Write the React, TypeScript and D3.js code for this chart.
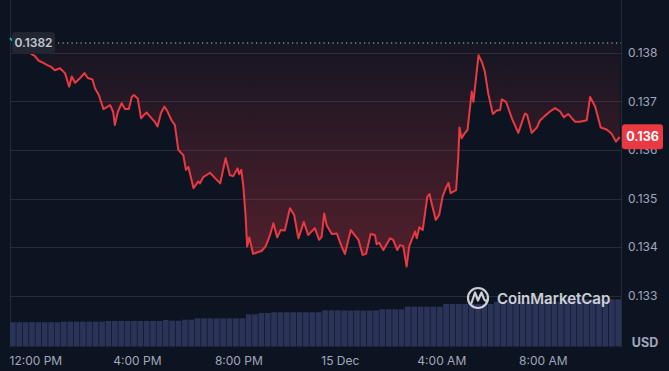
import * as d3 from "d3"
import { useEffect, useRef } from "react"

const W = 669
const H = 371
const BG = "#0d1421"
const RED = "#ea3943"
const GREEN = "#16c784"
const TEXT = "#a1a7bb"
const GRID = "#272c39"
const FONT = "Inter, 'Noto Sans', sans-serif"

const plot = { left: 10, right: 621, top: 0, priceTop: 52.7, priceBottom: 295.7, volTop: 296.5, bottom: 346.5 }

const START = new Date(2023, 11, 14, 11, 0)
const SPAN_MIN = 1445

// minutes after START
const times = [
  0, 9, 24, 40, 59, 67, 79, 87, 97, 106, 118, 130, 140, 146, 154, 166, 176, 184, 195, 201,
  210, 221, 237, 244, 248, 255, 264, 272, 281, 288, 293, 302, 310, 317, 323, 335, 343, 349, 357, 365,
  371, 382, 390, 398, 410, 416, 422, 434, 445, 449, 457, 473, 485, 497, 510, 520, 528, 538, 542, 547,
  552, 557, 561, 566, 575, 587, 595, 605, 615, 623, 632, 640, 650, 662, 672, 682, 695, 705, 721, 731,
  737, 743, 749, 761, 773, 783, 792, 806, 824, 834, 842, 853, 863, 867, 873, 883, 899, 906, 916, 922,
  930, 938, 944, 950, 958, 962, 968, 976, 987, 992, 998, 1007, 1015, 1023, 1031, 1037, 1042, 1055, 1060, 1063,
  1068, 1076, 1082, 1092, 1096, 1108, 1116, 1123, 1131, 1142, 1151, 1159, 1163, 1173, 1187, 1202, 1218, 1223, 1234, 1246,
  1253, 1265, 1277, 1289, 1301, 1310, 1320, 1336, 1348, 1364, 1372, 1384, 1397, 1411, 1423, 1433, 1442,
]

const prices = [
  0.1383, 0.13822, 0.13812, 0.13803, 0.13793, 0.13784, 0.13779, 0.13775, 0.13771, 0.13764,
  0.13768, 0.13758, 0.1373, 0.13751, 0.13738, 0.13748, 0.13758, 0.13748, 0.13745, 0.13727,
  0.13713, 0.13684, 0.13692, 0.13678, 0.13651, 0.13678, 0.13696, 0.13684, 0.13684, 0.13709,
  0.13713, 0.13706, 0.13665, 0.13672, 0.13677, 0.13665, 0.13657, 0.13648, 0.13676, 0.13689,
  0.13682, 0.13661, 0.13651, 0.136, 0.13589, 0.13559, 0.13565, 0.13521, 0.13535, 0.13531,
  0.13544, 0.13553, 0.13542, 0.13531, 0.13583, 0.13548, 0.13546, 0.13562, 0.1355, 0.13559,
  0.13524, 0.13466, 0.13401, 0.1342, 0.13386, 0.1339, 0.13392, 0.13402, 0.13425, 0.13449,
  0.1342, 0.13435, 0.13434, 0.1348, 0.13466, 0.13418, 0.13452, 0.13425, 0.13439, 0.13415,
  0.13421, 0.13469, 0.13445, 0.13427, 0.13428, 0.13404, 0.13386, 0.13435, 0.13415, 0.13384,
  0.13386, 0.13427, 0.13425, 0.13406, 0.13409, 0.13394, 0.13418, 0.13415, 0.13394, 0.13404,
  0.13402, 0.1336, 0.13401, 0.13415, 0.13432, 0.13418, 0.13441, 0.13435, 0.13504, 0.13509,
  0.13487, 0.13456, 0.13466, 0.13504, 0.13522, 0.13532, 0.13511, 0.13517, 0.13583, 0.13646,
  0.13624, 0.13635, 0.13641, 0.1372, 0.13699, 0.13795, 0.13781, 0.13761, 0.13716, 0.13674,
  0.13681, 0.13682, 0.13704, 0.13699, 0.13665, 0.13635, 0.13675, 0.13672, 0.13635, 0.13646,
  0.1366, 0.1367, 0.13679, 0.13686, 0.13679, 0.13667, 0.13674, 0.13658, 0.13658, 0.13661,
  0.13709, 0.13689, 0.13646, 0.13642, 0.13633, 0.13617, 0.13627,
]

// 15-minute volume bars, millions USD
const volumes = [
  24.3, 24.3, 24.3, 24.3, 24.3, 24.3, 24.3, 24.3,
  24.8, 24.8, 24.8, 24.8, 24.8, 24.8, 24.8,
  25.5, 25.5, 25.5, 25.5, 25.5, 25.5, 25.5, 25.5, 25.5,
  26.5, 25.8, 25.8, 26.8, 26.8,
  28.2, 28.2, 28.2, 28.2, 28.2, 28.2, 28.2, 28.2,
  32.2, 32.2, 33.5, 33.5,
  34.2, 34.2, 34.2, 34.2, 34.2, 34.2, 34.2, 34.2,
  36.2, 36.2, 36.2,
  36, 36, 36, 36, 36, 36,
  37.2, 37.2, 37.2, 37.2,
  39.8, 39.8, 39.8, 39.8, 39.8, 39.8,
  42.5, 42.5, 42.5, 42.5, 42.5, 42.5, 42.5, 42.5,
  44.8, 44.8, 44.8, 44.8, 44.8, 44.8, 44.8, 44.8, 44.8, 44.8, 44.8,
  47.2, 47.2, 47.2, 47.2, 47.2, 47.2, 47.2, 47.2, 47.2,
]

const openPrice = 0.1382
const priceTicks = [0.133, 0.134, 0.135, 0.136, 0.137, 0.138]
const timeTickHours = [1, 5, 9, 13, 17, 21]
const timeTickLabels = ["12:00 PM", "4:00 PM", "8:00 PM", "15 Dec", "4:00 AM", "8:00 AM"]

export default function App() {
  const svgRef = useRef<SVGSVGElement | null>(null)

  useEffect(() => {
    if (!svgRef.current) return
    const svg = d3.select(svgRef.current)
    svg.selectAll("*").remove()

    const data = times.map((m, i) => ({ t: d3.timeMinute.offset(START, m), p: prices[i] }))

    const x = d3
      .scaleTime()
      .domain([START, d3.timeMinute.offset(START, SPAN_MIN)])
      .range([plot.left, plot.right])
    const y = d3.scaleLinear().domain([0.133, 0.138]).range([plot.priceBottom, plot.priceTop])
    const xv = d3
      .scaleBand<number>()
      .domain(volumes.map((_, i) => i))
      .range([plot.left, plot.right])
      .paddingInner(0.1)
    const yv = d3.scaleLinear().domain([0, 50]).range([plot.bottom, plot.volTop])

    svg.append("rect").attr("width", W).attr("height", H).attr("fill", BG)

    const defs = svg.append("defs")
    const grad = defs
      .append("linearGradient")
      .attr("id", "redFill")
      .attr("gradientUnits", "userSpaceOnUse")
      .attr("x1", 0)
      .attr("x2", 0)
      .attr("y1", y(openPrice))
      .attr("y2", y(0.1336))
    grad.append("stop").attr("offset", 0).attr("stop-color", RED).attr("stop-opacity", 0.04)
    grad.append("stop").attr("offset", 1).attr("stop-color", RED).attr("stop-opacity", 0.32)

    defs
      .append("clipPath")
      .attr("id", "below")
      .append("rect")
      .attr("x", 0)
      .attr("y", y(openPrice))
      .attr("width", W)
      .attr("height", H)
    defs
      .append("clipPath")
      .attr("id", "above")
      .append("rect")
      .attr("x", 0)
      .attr("y", 0)
      .attr("width", W)
      .attr("height", y(openPrice))

    // Grid lines
    svg
      .append("g")
      .selectAll("line")
      .data(priceTicks)
      .enter()
      .append("line")
      .attr("x1", plot.left)
      .attr("x2", plot.right)
      .attr("y1", (d) => Math.round(y(d)) + 0.5)
      .attr("y2", (d) => Math.round(y(d)) + 0.5)
      .attr("stroke", GRID)
      .attr("stroke-width", 1)

    // frame
    svg
      .append("g")
      .selectAll("line")
      .data([plot.left, plot.right])
      .enter()
      .append("line")
      .attr("x1", (d) => d + 0.5)
      .attr("x2", (d) => d + 0.5)
      .attr("y1", 0)
      .attr("y2", plot.bottom + 1)
      .attr("stroke", GRID)

    // Volume
    svg
      .append("g")
      .selectAll("rect")
      .data(volumes)
      .enter()
      .append("rect")
      .attr("x", (_, i) => xv(i)!)
      .attr("width", xv.bandwidth())
      .attr("y", (d) => yv(d))
      .attr("height", (d) => plot.bottom - yv(d))
      .attr("fill", "#2b3358")

    // Area between price and open
    const area = d3
      .area<{ t: Date; p: number }>()
      .x((d) => x(d.t))
      .y0(y(openPrice))
      .y1((d) => y(d.p))
    svg.append("path").datum(data).attr("d", area).attr("fill", "url(#redFill)").attr("clip-path", "url(#below)")

    const line = d3
      .line<{ t: Date; p: number }>()
      .x((d) => x(d.t))
      .y((d) => y(d.p))
    svg
      .append("path")
      .datum(data)
      .attr("d", line)
      .attr("fill", "none")
      .attr("stroke", RED)
      .attr("stroke-width", 2)
      .attr("stroke-linejoin", "round")
      .attr("clip-path", "url(#below)")
    svg
      .append("path")
      .datum(data)
      .attr("d", line)
      .attr("fill", "none")
      .attr("stroke", GREEN)
      .attr("stroke-width", 2)
      .attr("stroke-linejoin", "round")
      .attr("clip-path", "url(#above)")

    // Open price dotted line
    svg
      .append("line")
      .attr("x1", 58)
      .attr("x2", plot.right)
      .attr("y1", y(openPrice))
      .attr("y2", y(openPrice))
      .attr("stroke", "#c3c7d2")
      .attr("stroke-width", 1.2)
      .attr("stroke-dasharray", "1.2,3.3")

    // Open price label
    svg
      .append("rect")
      .attr("x", 12)
      .attr("y", y(openPrice) - 11)
      .attr("width", 43)
      .attr("height", 22)
      .attr("rx", 4)
      .attr("fill", "#222633")
    svg
      .append("text")
      .attr("x", 33.5)
      .attr("y", y(openPrice))
      .attr("dy", "0.35em")
      .attr("text-anchor", "middle")
      .style("font-family", FONT)
      .style("font-size", "12px")
      .style("font-weight", "600")
      .style("fill", "#c3c7d2")
      .text(openPrice.toFixed(4))

    // Right axis
    const yAxis = svg
      .append("g")
      .attr("transform", `translate(${plot.right},0)`)
      .call(
        d3
          .axisRight(y)
          .tickValues(priceTicks)
          .tickSize(0)
          .tickPadding(7)
          .tickFormat(d3.format(".3f")),
      )
    yAxis.select(".domain").remove()
    yAxis
      .selectAll("text")
      .style("font-family", FONT)
      .style("font-size", "12px")
      .style("fill", TEXT)

    // X axis
    const xAxis = svg
      .append("g")
      .attr("transform", `translate(0,${plot.bottom})`)
      .call(
        d3
          .axisBottom(x)
          .tickValues(timeTickHours.map((h) => d3.timeHour.offset(START, h)))
          .tickSize(0)
          .tickPadding(10)
          .tickFormat((_, i) => timeTickLabels[i]),
      )
    xAxis.select(".domain").remove()
    xAxis
      .selectAll("text")
      .style("font-family", FONT)
      .style("font-size", "12px")
      .style("fill", TEXT)

    svg
      .append("text")
      .attr("x", 645)
      .attr("y", 343)
      .attr("dy", "0.35em")
      .attr("text-anchor", "middle")
      .style("font-family", FONT)
      .style("font-size", "12.5px")
      .style("font-weight", "700")
      .style("fill", TEXT)
      .text("USD")

    // Current price label
    const last = prices[prices.length - 1]
    svg
      .append("rect")
      .attr("x", plot.right + 1)
      .attr("y", y(last) - 12.5)
      .attr("width", 41)
      .attr("height", 25)
      .attr("rx", 3)
      .attr("fill", RED)
    svg
      .append("text")
      .attr("x", plot.right + 21.5)
      .attr("y", y(last))
      .attr("dy", "0.35em")
      .attr("text-anchor", "middle")
      .style("font-family", FONT)
      .style("font-size", "12.5px")
      .style("font-weight", "700")
      .style("fill", "#fff")
      .text(last.toFixed(3))

    // Watermark
    const wm = svg.append("g").attr("opacity", 0.88)
    wm.append("circle")
      .attr("cx", 478)
      .attr("cy", 298)
      .attr("r", 10)
      .attr("fill", "none")
      .attr("stroke", "#e6e8ee")
      .attr("stroke-width", 2.2)
    wm.append("path")
      .attr("d", "M471.5,303 L475,292.5 L478,300.5 L481.5,292.5 L484,299 Q485.5,302 487.5,300")
      .attr("fill", "none")
      .attr("stroke", "#e6e8ee")
      .attr("stroke-width", 2.2)
      .attr("stroke-linejoin", "round")
      .attr("stroke-linecap", "round")
    wm.append("text")
      .attr("x", 497)
      .attr("y", 298.5)
      .attr("dy", "0.35em")
      .style("font-family", FONT)
      .style("font-size", "15px")
      .style("font-weight", "600")
      .style("fill", "#e6e8ee")
      .text("CoinMarketCap")
  }, [])

  return (
    <svg
      ref={svgRef}
      width={W}
      height={H}
      style={{ position: "fixed", top: 0, left: 0, display: "block" }}
      xmlns="http://www.w3.org/2000/svg"
    />
  )
}
